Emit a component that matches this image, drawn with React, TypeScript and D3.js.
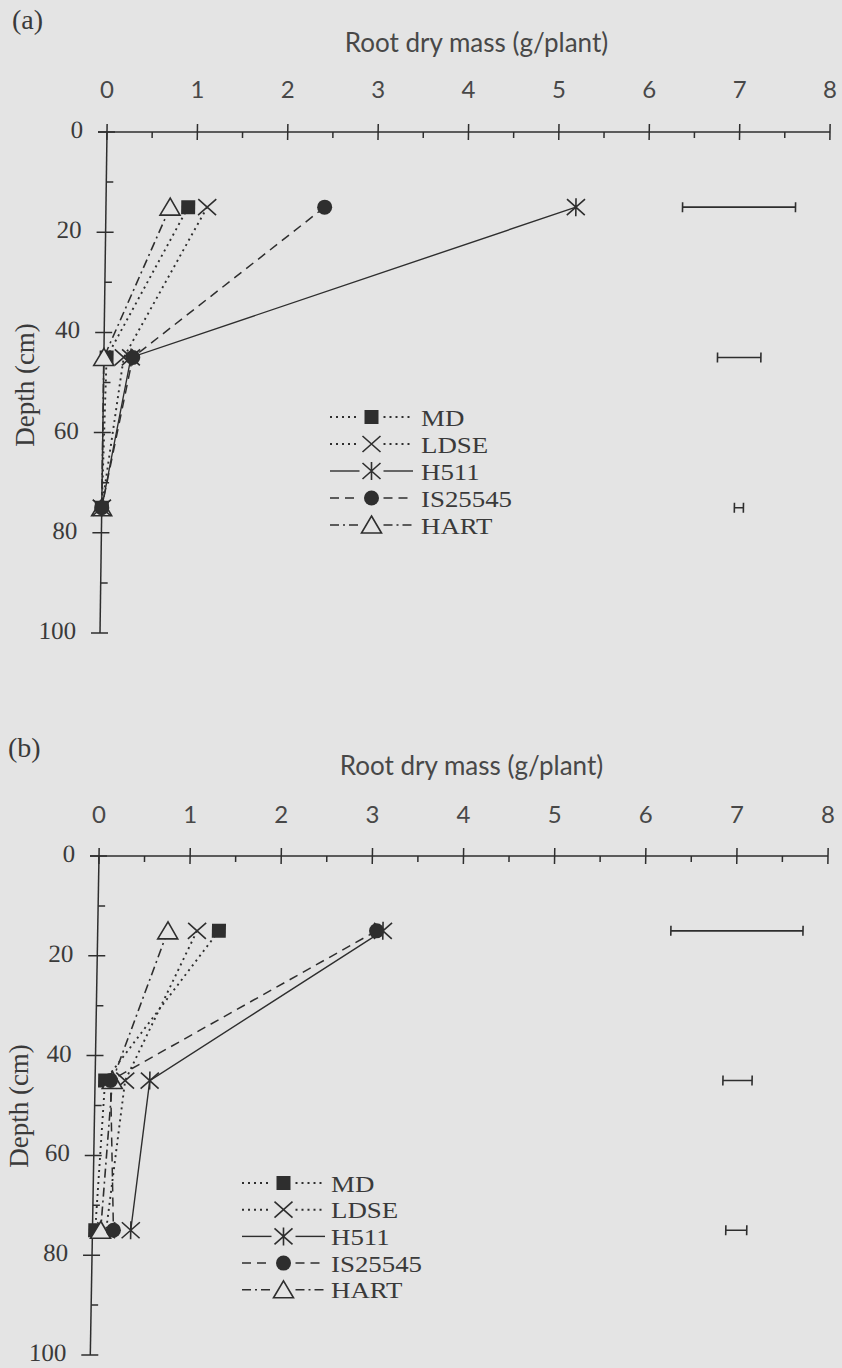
import React, { useEffect, useRef } from 'react';
import * as d3 from 'd3';

const depths = [15, 45, 75];
const varieties = ['MD', 'LDSE', 'H511', 'IS25545', 'HART'];
const xTicks = [0, 1, 2, 3, 4, 5, 6, 7, 8];
const xMinorTicks = [0.5, 1.5, 2.5, 3.5, 4.5, 5.5, 6.5, 7.5];
const yTicks = [0, 20, 40, 60, 80, 100];
const yMinorTicks = [10, 30, 50, 70, 90];

// panel (a) root dry mass, g/plant, at 15/45/75 cm
const mdA = [0.91, 0.03, 0];
const ldseA = [1.12, 0.22, 0];
const h511A = [5.2, 0.3, 0];
const isA = [2.42, 0.32, 0];
const hartA = [0.71, 0, 0];
const lsdLowA = [6.38, 6.79, 7.0];
const lsdHighA = [7.63, 7.27, 7.1];

// panel (b)
const mdB = [1.33, 0.11, 0.03];
const ldseB = [1.09, 0.33, 0.15];
const h511B = [3.13, 0.6, 0.42];
const isB = [3.06, 0.17, 0.23];
const hartB = [0.77, 0.19, 0.09];
const lsdLowB = [6.29, 6.89, 6.95];
const lsdHighB = [7.74, 7.21, 7.18];

const BG = '#e4e4e4';
const INK = '#2e2e2e';
const TEXT = '#3a3a3a';
const SERIF = '"Liberation Serif", "Times New Roman", serif';
const SANS = 'Lato, "Open Sans", sans-serif';

const lineStyle: Record<string, { dash: string | null; width: number; marker: string }> = {
  MD: { dash: '2,4', width: 1.9, marker: 'square' },
  LDSE: { dash: '2,4', width: 1.9, marker: 'x' },
  H511: { dash: null, width: 1.4, marker: 'asterisk' },
  IS25545: { dash: '9,6', width: 1.5, marker: 'circle' },
  HART: { dash: '9,4,2,4', width: 1.6, marker: 'triangle' },
};
// stacking order of the markers, bottom first
const markerOrder = [0, 1, 4, 2, 3];

function drawMarker(g: any, kind: string, cx: number, cy: number) {
  const m = g.append('g').attr('transform', `translate(${cx},${cy})`);
  if (kind === 'square') {
    m.append('rect').attr('x', -7).attr('y', -7).attr('width', 14).attr('height', 14).attr('fill', INK);
  } else if (kind === 'x') {
    m.append('path').attr('d', 'M-9,-8L9,8M-9,8L9,-8')
      .attr('stroke', INK).attr('stroke-width', 1.6).attr('fill', 'none');
  } else if (kind === 'asterisk') {
    m.append('path').attr('d', 'M-9,-8L9,8M-9,8L9,-8M0,-9L0,9')
      .attr('stroke', INK).attr('stroke-width', 1.6).attr('fill', 'none');
  } else if (kind === 'circle') {
    m.append('circle').attr('r', 7.5).attr('fill', INK);
  } else if (kind === 'triangle') {
    m.append('path').attr('d', 'M0,-9L10,8L-10,8Z')
      .attr('fill', BG).attr('stroke', INK).attr('stroke-width', 1.6);
  }
}

const panels = [
  {
    label: '(a)', labelX: 12, labelY: 29,
    xRange: [107, 830], yRange: [132, 633], skew: -0.8,
    titleY: 52, tickY: 98, depthX: 25, depthY: 385,
    legX: [330, 413], legTextX: 421, legY: 417, legStep: 27,
    series: [mdA, ldseA, h511A, isA, hartA], lsdLow: lsdLowA, lsdHigh: lsdHighA,
  },
  {
    label: '(b)', labelX: 8, labelY: 757,
    xRange: [99, 828], yRange: [856, 1355], skew: -1.0,
    titleY: 775, tickY: 823, depthX: 19, depthY: 1106,
    legX: [242, 325], legTextX: 331, legY: 1183, legStep: 26.7,
    series: [mdB, ldseB, h511B, isB, hartB], lsdLow: lsdLowB, lsdHigh: lsdHighB,
  },
];

export default function App() {
  const svgRef = useRef<SVGSVGElement>(null);

  useEffect(() => {
    const svg = d3.select(svgRef.current).html('');
    svg.append('rect').attr('width', 842).attr('height', 1368).attr('fill', BG);

    panels.forEach((p) => {
      const x = d3.scaleLinear().domain([0, 8]).range(p.xRange);
      const y = d3.scaleLinear().domain([0, 100]).range(p.yRange);
      const x0 = p.xRange[0];
      const y0 = p.yRange[0];
      const panel = svg.append('g');

      panel.append('text').attr('x', p.labelX).attr('y', p.labelY)
        .style('font-family', SERIF).style('font-size', '28px').attr('fill', TEXT).text(p.label);

      panel.append('text').attr('x', (x(0) + x(8)) / 2 + 8).attr('y', p.titleY)
        .attr('text-anchor', 'middle').style('font-family', SANS).style('font-size', '26px')
        .attr('fill', '#484848').text('Root dry mass (g/plant)');

      panel.append('text')
        .attr('transform', `translate(${p.depthX},${p.depthY}) rotate(-90)`)
        .attr('text-anchor', 'middle').attr('dy', '0.35em')
        .style('font-family', SERIF).style('font-size', '27px').attr('fill', TEXT)
        .text('Depth (cm)');

      panel.selectAll('text.xlab').data(xTicks).enter().append('text')
        .attr('class', 'xlab')
        .attr('x', (d) => x(d)).attr('y', p.tickY)
        .attr('text-anchor', 'middle').style('font-family', SANS).style('font-size', '24px')
        .attr('fill', '#484848').text((d) => String(d));

      const g = panel.append('g')
        .attr('transform', `translate(${x0},${y0}) skewX(${p.skew}) translate(${-x0},${-y0})`);

      // top axis
      g.append('line').attr('x1', x(0) - 9).attr('x2', x(8)).attr('y1', y(0)).attr('y2', y(0))
        .attr('stroke', INK).attr('stroke-width', 1.5);
      g.selectAll('line.xmaj').data(xTicks).enter().append('line').attr('class', 'xmaj')
        .attr('x1', (d) => x(d)).attr('x2', (d) => x(d))
        .attr('y1', y(0) - 8).attr('y2', y(0) + 8)
        .attr('stroke', INK).attr('stroke-width', 1.5);
      g.selectAll('line.xmin').data(xMinorTicks).enter().append('line').attr('class', 'xmin')
        .attr('x1', (d) => x(d)).attr('x2', (d) => x(d))
        .attr('y1', y(0)).attr('y2', y(0) + 6)
        .attr('stroke', INK).attr('stroke-width', 1.5);

      // left axis
      g.append('line').attr('x1', x(0)).attr('x2', x(0)).attr('y1', y(0)).attr('y2', y(100))
        .attr('stroke', INK).attr('stroke-width', 1.5);
      g.selectAll('line.ymaj').data(yTicks).enter().append('line').attr('class', 'ymaj')
        .attr('x1', x(0) - 9).attr('x2', x(0) + 8)
        .attr('y1', (d) => y(d)).attr('y2', (d) => y(d))
        .attr('stroke', INK).attr('stroke-width', 1.5);
      g.selectAll('line.ymin').data(yMinorTicks).enter().append('line').attr('class', 'ymin')
        .attr('x1', x(0)).attr('x2', x(0) + 7)
        .attr('y1', (d) => y(d)).attr('y2', (d) => y(d))
        .attr('stroke', INK).attr('stroke-width', 1.5);
      g.selectAll('text.ylab').data(yTicks).enter().append('text').attr('class', 'ylab')
        .attr('x', x(0) - 24).attr('y', (d) => y(d) + 6)
        .attr('text-anchor', 'end').style('font-family', SERIF).style('font-size', '25px')
        .attr('fill', TEXT).text((d) => String(d));

      // LSD bars
      depths.forEach((dep, i) => {
        const yy = y(dep);
        g.append('path')
          .attr('d', `M${x(p.lsdLow[i])},${yy - 5}V${yy + 5}M${x(p.lsdLow[i])},${yy}H${x(p.lsdHigh[i])}M${x(p.lsdHigh[i])},${yy - 5}V${yy + 5}`)
          .attr('stroke', INK).attr('stroke-width', 1.6).attr('fill', 'none');
      });

      // series lines
      const line = d3.line<number>().x((v) => x(v)).y((_, i) => y(depths[i]));
      varieties.forEach((name, k) => {
        const st = lineStyle[name];
        g.append('path').attr('d', line(p.series[k]))
          .attr('fill', 'none').attr('stroke', INK).attr('stroke-width', st.width)
          .attr('stroke-dasharray', st.dash);
      });
      markerOrder.forEach((k) => {
        const st = lineStyle[varieties[k]];
        p.series[k].forEach((v, i) => drawMarker(g, st.marker, x(v), y(depths[i])));
      });

      // legend
      varieties.forEach((name, k) => {
        const st = lineStyle[name];
        const ly = p.legY + k * p.legStep;
        const mid = (p.legX[0] + p.legX[1]) / 2;
        const gap = 12;
        [[p.legX[0], mid - gap], [mid + gap, p.legX[1]]].forEach(([a, b]) => {
          panel.append('line').attr('x1', a).attr('x2', b).attr('y1', ly).attr('y2', ly)
            .attr('stroke', INK).attr('stroke-width', st.width).attr('stroke-dasharray', st.dash);
        });
        drawMarker(panel, st.marker, mid, ly);
        panel.append('text')
          .attr('transform', `translate(${p.legTextX},${ly + 8.5}) scale(1.12,1)`)
          .style('font-family', SERIF).style('font-size', '24px').attr('fill', TEXT).text(name);
      });
    });
  }, []);

  return (
    <svg ref={svgRef} width={842} height={1368}
      style={{ position: 'absolute', left: 0, top: 0, display: 'block' }} />
  );
}
